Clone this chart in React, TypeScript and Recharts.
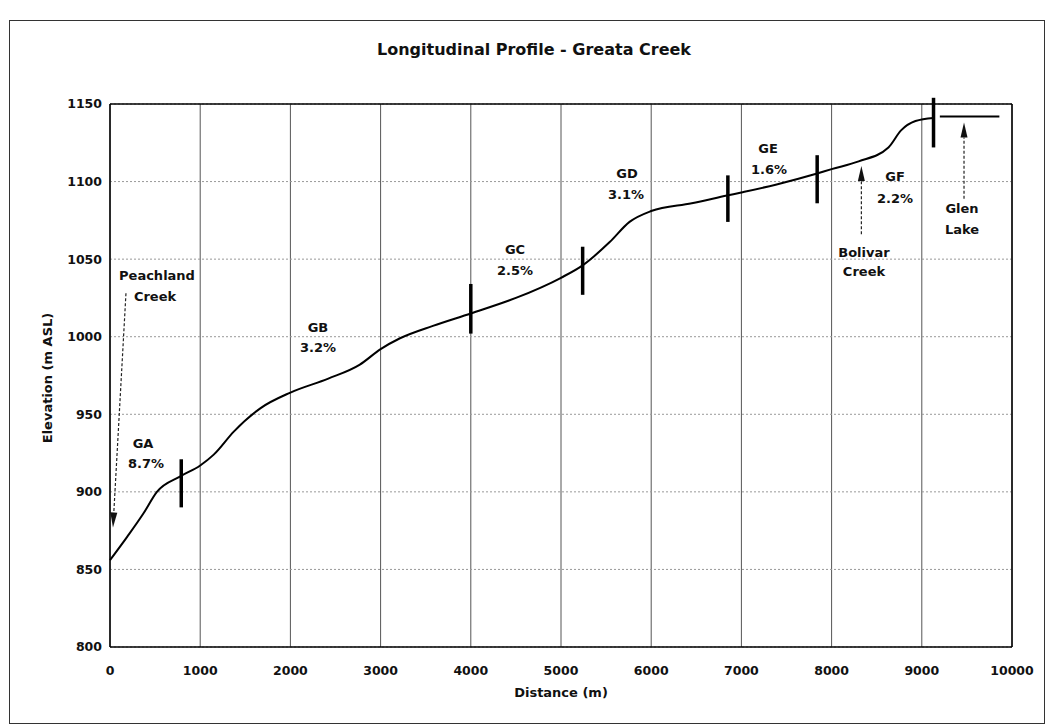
import React from "react";
import {
  CartesianGrid,
  Line,
  LineChart,
  ReferenceDot,
  ReferenceLine,
  XAxis,
  YAxis,
  Label,
} from "recharts";

// stream profile, distance (m) vs elevation (m ASL)
const distance = [
  0, 190, 370, 520, 780, 1000, 1150, 1375, 1670, 2000, 2420, 2770, 3000, 3215,
  3580, 4000, 4500, 5000, 5240, 5540, 5760, 6000, 6450, 6840, 7000, 7380, 7830,
  8000, 8300, 8630, 8770, 8930, 9130,
];
const elevation = [
  856, 871, 886, 900, 910, 917, 924, 939, 954, 964, 973, 982, 992, 999, 1007,
  1015, 1025, 1038, 1046, 1061, 1074, 1081, 1086, 1091, 1093, 1098, 1105, 1108,
  1113, 1122, 1133, 1139, 1141,
];

// Glen Lake surface
const lakeDistance = [9200, 9860];
const lakeElevation = [1142, 1142];

const xTicks = [0, 1000, 2000, 3000, 4000, 5000, 6000, 7000, 8000, 9000, 10000];
const yTicks = [800, 850, 900, 950, 1000, 1050, 1100, 1150];

// reach break markers
const breakDistance = [790, 4000, 5240, 6850, 7840, 9130];
const breakLow = [890, 1002, 1027, 1074, 1086, 1122];
const breakHigh = [921, 1034, 1058, 1104, 1117, 1154];

// text notes (data coords)
const noteText = [
  "Peachland", "Creek", "GA", "8.7%", "GB", "3.2%", "GC", "2.5%", "GD", "3.1%",
  "GE", "1.6%", "GF", "2.2%", "Bolivar", "Creek", "Glen", "Lake",
];
const noteX = [
  521, 499, 366, 399, 2306, 2306, 4490, 4490, 5732, 5721, 7295, 7306, 8703,
  8703, 8359, 8359, 9446, 9446,
];
const noteY = [
  1039.6, 1026, 931, 918, 1006, 993, 1056, 1043, 1105, 1091.6, 1121, 1108,
  1103, 1089, 1054, 1042, 1082.6, 1069,
];

// arrows pointing at tributaries / lake
const arrowFromX = [177, 8330, 9468];
const arrowFromY = [1028, 1066, 1089];
const arrowToX = [33, 8330, 9468];
const arrowToY = [877, 1110, 1138];

const profile = distance.map((d, i) => ({ d, e: elevation[i] }));
const lake = lakeDistance.map((d, i) => ({ d, e: lakeElevation[i] }));

const FONT = "'DejaVu Sans', 'Liberation Sans', sans-serif";
const tickStyle = { fontSize: 12.5, fontWeight: 700, fill: "#111", fontFamily: FONT };

function Arrow(props: any) {
  const { x1, y1, x2, y2 } = props;
  const ang = Math.atan2(y2 - y1, x2 - x1);
  const len = 15;
  const half = 3.5;
  const bx = x2 - len * Math.cos(ang);
  const by = y2 - len * Math.sin(ang);
  const px = -Math.sin(ang) * half;
  const py = Math.cos(ang) * half;
  return (
    <g>
      <line
        x1={x1}
        y1={y1}
        x2={bx}
        y2={by}
        stroke="#222"
        strokeWidth={1.2}
        strokeDasharray="3 2"
      />
      <polygon
        points={`${x2},${y2} ${bx + px},${by + py} ${bx - px},${by - py}`}
        fill="#111"
      />
    </g>
  );
}

export default function App() {
  return (
    <div
      style={{
        position: "fixed",
        left: 0,
        top: 0,
        width: 1047,
        height: 727,
        background: "#fff",
        fontFamily: FONT,
      }}
    >
      <div
        style={{
          position: "absolute",
          left: 9,
          top: 20,
          width: 1034,
          height: 702,
          border: "1.5px solid #333",
        }}
      />
      <div
        style={{
          position: "absolute",
          left: 377,
          top: 41,
          fontSize: 16,
          lineHeight: "18px",
          fontWeight: 700,
          color: "#111",
          whiteSpace: "nowrap",
        }}
      >
        Longitudinal Profile - Greata Creek
      </div>
      <div style={{ position: "absolute", left: 0, top: 0 }}>
        <LineChart
          width={1047}
          height={727}
          margin={{ top: 104, right: 35, bottom: 28, left: 0 }}
        >
          <CartesianGrid horizontal={false} stroke="#555" strokeWidth={1} />
          <CartesianGrid
            vertical={false}
            stroke="#999"
            strokeDasharray="2 2"
            strokeWidth={1}
          />
          <XAxis
            dataKey="d"
            type="number"
            domain={[0, 10000]}
            ticks={xTicks}
            height={52}
            axisLine={{ stroke: "#000", strokeWidth: 1.5 }}
            tickLine={false}
            tickMargin={13}
            tick={tickStyle}
          >
            <Label
              value="Distance (m)"
              position="insideBottom"
              offset={2}
              style={{ fontSize: 13, fontWeight: 700, fill: "#111", fontFamily: FONT }}
            />
          </XAxis>
          <YAxis
            type="number"
            domain={[800, 1150]}
            ticks={yTicks}
            width={110}
            axisLine={{ stroke: "#000", strokeWidth: 1.5 }}
            tickLine={false}
            tickMargin={2}
            tick={tickStyle}
          >
            <Label
              content={() => (
                <text
                  x={47}
                  y={378}
                  transform="rotate(-90 47 378)"
                  textAnchor="middle"
                  dominantBaseline="central"
                  fontSize={13}
                  fontWeight={700}
                  fill="#111"
                  fontFamily={FONT}
                >
                  Elevation (m ASL)
                </text>
              )}
            />
          </YAxis>
          <ReferenceLine y={1150} stroke="#000" strokeWidth={1.5} />
          <ReferenceLine x={10000} stroke="#000" strokeWidth={1.5} />
          <Line
            data={profile}
            dataKey="e"
            type="monotone"
            stroke="#000"
            strokeWidth={2}
            dot={false}
            isAnimationActive={false}
          />
          <Line
            data={lake}
            dataKey="e"
            type="linear"
            stroke="#000"
            strokeWidth={2}
            dot={false}
            isAnimationActive={false}
          />
          {breakDistance.map((d, i) => (
            <ReferenceLine
              key={`b${i}`}
              segment={[
                { x: d, y: breakLow[i] },
                { x: d, y: breakHigh[i] },
              ]}
              stroke="#000"
              strokeWidth={3.5}
              ifOverflow="visible"
            />
          ))}
          {arrowFromX.map((d, i) => (
            <ReferenceLine
              key={`a${i}`}
              segment={[
                { x: d, y: arrowFromY[i] },
                { x: arrowToX[i], y: arrowToY[i] },
              ]}
              ifOverflow="visible"
              shape={Arrow}
            />
          ))}
          {noteText.map((t, i) => (
            <ReferenceDot
              key={`n${i}`}
              x={noteX[i]}
              y={noteY[i]}
              ifOverflow="visible"
              shape={(p: any) => (
                <text
                  x={p.cx}
                  y={p.cy}
                  textAnchor="middle"
                  dominantBaseline="central"
                  fontSize={13}
                  fontWeight={700}
                  fill="#111"
                  fontFamily={FONT}
                >
                  {t}
                </text>
              )}
            />
          ))}
        </LineChart>
      </div>
    </div>
  );
}
